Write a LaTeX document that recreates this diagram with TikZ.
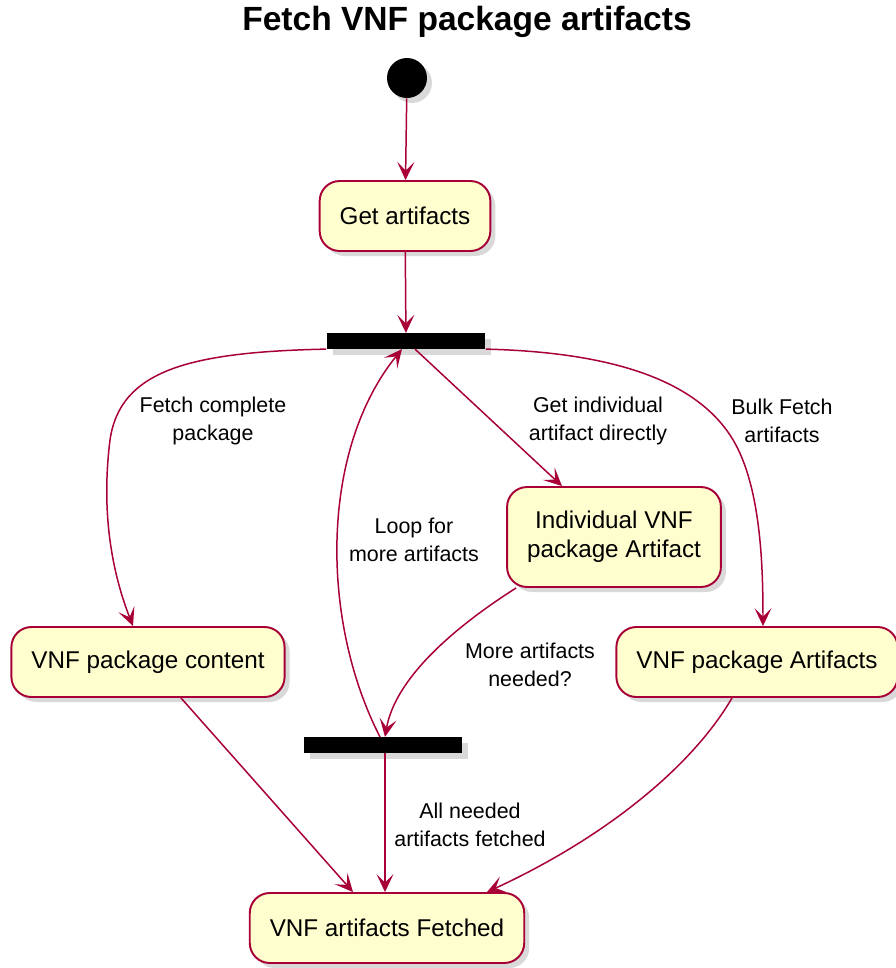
\documentclass[tikz,border=0pt]{standalone}
\usepackage{fontspec}
\setmainfont{Liberation Sans}
\usepackage{tikz}
\usetikzlibrary{arrows.meta,calc,shadows}
\definecolor{umlred}{HTML}{A80036}
\definecolor{umlfill}{HTML}{FEFECE}

\begin{document}
\begin{tikzpicture}[x=0.02cm,y=-0.02cm,
		shade/.style={drop shadow={shadow xshift=0.1cm,shadow yshift=-0.1cm,opacity=0.3}},
		act/.style={draw=umlred,fill=umlfill,line width=1.1pt,rounded corners=0.4cm,minimum height=1.4cm,inner xsep=0.4cm,align=center,font=\fontsize{13.8}{16.5}\selectfont,shade},
		bar/.style={fill=black,minimum width=3.18cm,minimum height=0.31cm,inner sep=0pt,drop shadow={shadow xshift=0.12cm,shadow yshift=-0.12cm,opacity=0.3}},
		flow/.style={draw=umlred,line width=0.85pt,-{Stealth[length=0.36cm,width=0.34cm,inset=0.17cm]}},
		lbl/.style={align=center,font=\fontsize{12.2}{15.9}\selectfont}]
		\useasboundingbox (0,0) rectangle (896,968);
		\node[font=\bfseries\fontsize{19.1}{22}\selectfont] (title) at (467,22) {Fetch VNF package artifacts};
		\node[circle,fill=black,minimum size=0.8cm,inner sep=0pt,shade] (start) at (407,78) {};
		\node[act] (get) at (405,216) {Get artifacts};
		\node[bar] (fork) at (406,341) {};
		\node[act] (content) at (148,662) {VNF package content};
		\node[act,minimum height=2cm] (single) at (614,537) {Individual VNF\\package Artifact};
		\node[act] (bulk) at (757,662) {VNF package Artifacts};
		\node[bar] (join) at (383,745) {};
		\node[act] (fetched) at (387,928) {VNF artifacts Fetched};
		\path (start) edge[flow] (get)
			(get) edge[flow] (fork)
			($(fork.south)+(9,0)$) edge[flow] ($(single.north)+(-52,0)$)
			($(join.south)+(2,0)$) edge[flow] ($(fetched.north)+(-2,0)$)
			($(content.south)+(33,0)$) edge[flow] ($(fetched.north)+(-34,0)$);
		\draw[flow] (fork.south west) .. controls (190,352) and (120,370) .. (110,440) .. controls (100,520) and (115,580) .. ($(content.north)+(-15,0)$);
		\draw[flow] (fork.south east) .. controls (600,352) and (690,375) .. (730,435) .. controls (760,480) and (763,560) .. ($(bulk.north)+(6,0)$);
		\draw[flow] ($(single.south west)+(10,0)$) .. controls (450,630) and (395,680) .. ($(join.north)+(2,0)$);
		\draw[flow] ($(join.north)+(-3,0)$) .. controls (320,620) and (320,450) .. ($(fork.south)+(-4,0)$);
		\draw[flow] ($(bulk.south)+(-25,0)$) .. controls (690,770) and (600,840) .. ($(fetched.north)+(100,0)$);
		% edge labels
		\node[lbl] (lcomplete) at (213,421) {Fetch complete\\package};
		\node[lbl] (lsingle) at (598,421) {Get individual\\artifact directly};
		\node[lbl] (lbulk) at (782,421) {Bulk Fetch\\artifacts};
		\node[lbl] (lloop) at (414,540) {Loop for\\more artifacts};
		\node[lbl] (lmore) at (530,665) {More artifacts\\needed?};
		\node[lbl] (ldone) at (470,825) {All needed\\artifacts fetched};
	\end{tikzpicture}
\end{document}
